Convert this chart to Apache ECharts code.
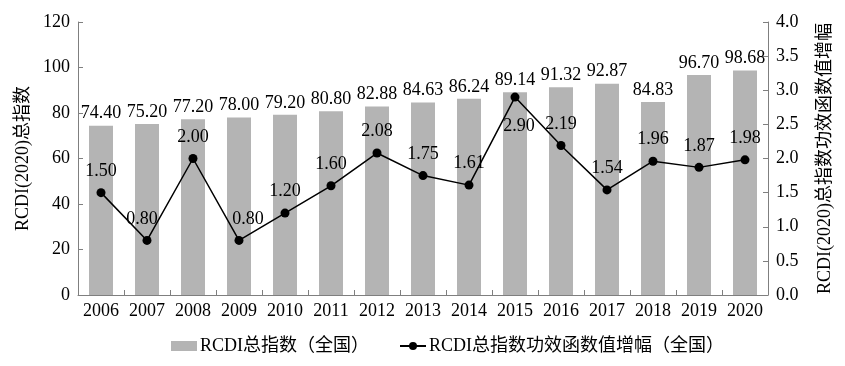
<!DOCTYPE html>
<html><head><meta charset="utf-8">
<script src="https://cdn.jsdelivr.net/npm/echarts@6/dist/echarts.min.js"></script>
<style>html,body{margin:0;padding:0;background:#fff}#c{width:845px;height:366px}</style>
</head><body><div id="c"></div>
<script>
const years = ['2006','2007','2008','2009','2010','2011','2012','2013','2014','2015','2016','2017','2018','2019','2020'];
const indexValues = [74.40,75.20,77.20,78.00,79.20,80.80,82.88,84.63,86.24,89.14,91.32,92.87,84.83,96.70,98.68];
const growthValues = [1.50,0.80,2.00,0.80,1.20,1.60,2.08,1.75,1.61,2.90,2.19,1.54,1.96,1.87,1.98];
const barName = 'RCDI总指数（全国）';
const lineName = 'RCDI总指数功效函数值增幅（全国）';
const FONT = '"Liberation Serif", "Times New Roman", "Noto Sans CJK SC", serif';
const FS = 18;
// label placement tweaks (style only)
const labelTweaks = {
  1: {offset:[-5,0]},
  3: {offset:[9,0]},
  9: {position:'bottom', distance:16, offset:[4,0]}
};
const lineData = growthValues.map((v,i)=> labelTweaks[i] ? {value:v, label:labelTweaks[i]} : v);
const chart = echarts.init(document.getElementById('c'));
const axisLine = {show:true, lineStyle:{color:'#7f7f7f', width:1}};
const tick = {show:true, inside:true, length:5, lineStyle:{color:'#7f7f7f'}};
chart.setOption({
  animation:false,
  textStyle:{fontFamily:FONT, color:'#000'},
  grid:{left:78, right:77, top:22, bottom:71},
  legend:{
    bottom:6, left:166, itemGap:30, itemWidth:26, itemHeight:10,
    textStyle:{fontFamily:FONT, fontSize:FS, color:'#000', padding:[0,0,0,-2]},
    data:[{name:barName, icon:'rect'}, {name:lineName}]
  },
  xAxis:{
    type:'category', data:years,
    axisLine:axisLine, axisTick:tick,
    axisLabel:{interval:0, hideOverlap:false, fontFamily:FONT, fontSize:FS, color:'#000', margin:7}
  },
  yAxis:[{
    type:'value', min:0, max:120, interval:20,
    name:'RCDI(2020)总指数', nameLocation:'middle', nameGap:44, nameRotate:90,
    nameTextStyle:{fontFamily:FONT, fontSize:FS, color:'#000'},
    axisLine:axisLine, axisTick:tick,
    splitLine:{show:false},
    axisLabel:{fontFamily:FONT, fontSize:FS, color:'#000', margin:8}
  },{
    type:'value', min:0, max:4, interval:0.5, position:'right',
    name:'RCDI(2020)总指数功效函数值增幅', nameLocation:'middle', nameGap:48, nameRotate:90,
    nameTextStyle:{fontFamily:FONT, fontSize:FS, color:'#000'},
    axisLine:axisLine, axisTick:tick,
    splitLine:{show:false},
    axisLabel:{fontFamily:FONT, fontSize:FS, color:'#000', margin:8, formatter:v=>v.toFixed(1)}
  }],
  series:[{
    name:barName, type:'bar', data:indexValues, barWidth:24,
    itemStyle:{color:'#b4b4b4'},
    label:{show:true, position:'top', distance:3, fontFamily:FONT, fontSize:FS, color:'#000', formatter:p=>p.value.toFixed(2)}
  },{
    name:lineName, type:'line', yAxisIndex:1, data:lineData,
    symbol:'circle', symbolSize:9,
    lineStyle:{color:'#000', width:1.5}, itemStyle:{color:'#000'},
    label:{show:true, position:'top', distance:8, fontFamily:FONT, fontSize:FS, color:'#000', formatter:p=>p.value.toFixed(2)}
  }]
});
</script></body></html>
